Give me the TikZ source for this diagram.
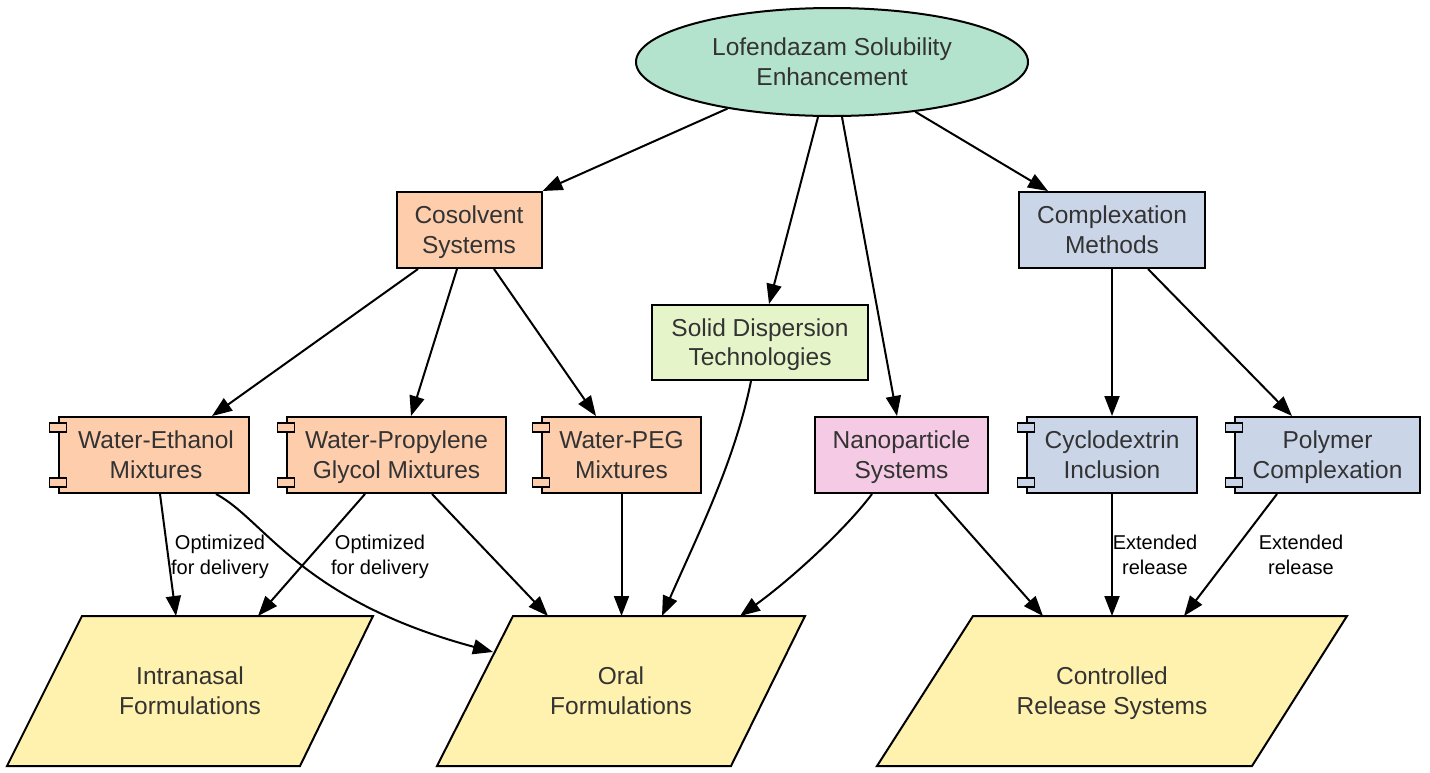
\documentclass[tikz,border=0pt]{standalone}
\usepackage{fontspec}
\setmainfont{Liberation Sans}
\usetikzlibrary{arrows.meta,shapes.geometric,calc}
\definecolor{cmint}{HTML}{B3E2CD}
\definecolor{corange}{HTML}{FDCDAC}
\definecolor{cblue}{HTML}{CBD5E8}
\definecolor{cpink}{HTML}{F4CAE4}
\definecolor{cgreen}{HTML}{E6F5C9}
\definecolor{cyellow}{HTML}{FFF2AE}
\definecolor{ctext}{HTML}{333333}
\newcommand\tstrut{\rule[-6.2pt]{0pt}{29.4pt}}
\newcommand\lstrut{\rule[-5.2pt]{0pt}{24.6pt}}
\newcommand\twol[2]{\tstrut #1\\\tstrut #2}
\newcommand\twos[2]{\lstrut #1\\\lstrut #2}
\newcommand\comptabs[2]{%
  \draw[line width=1.8pt, fill=#2] ($(#1.north west)+(-8.5,7)$) rectangle ++(17,9);
  \draw[line width=1.8pt, fill=#2] ($(#1.south west)+(-8.5,-16)$) rectangle ++(17,9);}
\begin{document}
\begin{tikzpicture}[x=1pt,y=-1pt,
  base/.style={draw=black, line width=2pt, text=ctext, font=\fontsize{24.5}{29.5}\selectfont, align=center, inner sep=0pt},
  box/.style={base, rectangle, minimum height=76pt},
  para/.style={draw=black, line width=2pt, fill=cyellow},
  ptext/.style={text=ctext, font=\fontsize{24.5}{29.5}\selectfont, align=center, inner sep=0pt},
  lbl/.style={font=\fontsize{20}{25}\selectfont, align=center, text=black, inner sep=0pt},
  arr/.style={line width=2pt, -{Triangle[length=20pt,width=15pt]}}
]
\useasboundingbox (0,0) rectangle (1430,772);

% top ellipse
\node[base, ellipse, fill=cmint, minimum width=392pt, minimum height=108pt] (ell) at (832,62) {\twol{Lofendazam Solubility}{Enhancement}};

% second level
\node[box, fill=corange, minimum width=145pt] (cosolv) at (469,230) {\twol{Cosolvent}{Systems}};
\node[box, fill=cblue, minimum width=186pt] (cplx) at (1112,230) {\twol{Complexation}{Methods}};
\node[box, fill=cgreen, minimum width=216pt, minimum height=75pt] (solid) at (760,342.5) {\twol{Solid Dispersion}{Technologies}};

% third level
\node[box, fill=corange, minimum width=190pt] (weth) at (154,455) {\twol{\hspace*{4pt}Water-Ethanol}{\hspace*{4pt}Mixtures}};
\node[box, fill=corange, minimum width=219pt] (wpg) at (396.5,455) {\twol{Water-Propylene}{Glycol Mixtures}};
\node[box, fill=corange, minimum width=159pt] (wpeg) at (621.5,455) {\twol{Water-PEG}{Mixtures}};
\node[box, fill=cpink, minimum width=173pt] (nano) at (901.5,455) {\twol{Nanoparticle}{Systems}};
\node[box, fill=cblue, minimum width=170pt] (cyc) at (1112,455) {\twol{Cyclodextrin}{Inclusion}};
\node[box, fill=cblue, minimum width=185pt] (poly) at (1327.5,455) {\twol{Polymer}{Complexation}};
\comptabs{weth}{corange}
\comptabs{wpg}{corange}
\comptabs{wpeg}{corange}
\comptabs{cyc}{cblue}
\comptabs{poly}{cblue}

% parallelograms
\draw[para] (82,616) -- (373,616) -- (300,766) -- (7,766) -- cycle;
\draw[para] (513,616) -- (805,616) -- (731,766) -- (437,766) -- cycle;
\draw[para] (973,616) -- (1347,616) -- (1252,766) -- (877,766) -- cycle;
\node[ptext] (intra) at (190,691) {\twol{Intranasal}{Formulations}};
\node[ptext] (oral) at (621,691) {\twol{Oral}{Formulations}};
\node[ptext] (ctrl) at (1112,691) {\twol{Controlled}{Release Systems}};

% arrow end points on parallelogram top edges
\coordinate (intraA) at (176,616);
\coordinate (intraB) at (258,616);
\coordinate (oralA) at (493,652);
\coordinate (oralB) at (548,616);
\coordinate (oralC) at (621.5,616);
\coordinate (oralD) at (662,616);
\coordinate (oralE) at (740,616);
\coordinate (ctrlA) at (1043,616);
\coordinate (ctrlB) at (1112,616);
\coordinate (ctrlC) at (1184,616);

% edges from top
\draw[arr] (ell) -- (cosolv.north east);
\draw[arr] ([xshift=-14pt]ell.south) -- ([xshift=9pt]solid.north);
\draw[arr] ([xshift=10pt]ell.south) -- ([xshift=-4.5pt]nano.north);
\draw[arr] (ell) -- ([xshift=-64pt]cplx.north);

% cosolvent children
\draw[arr] ([xshift=-51pt]cosolv.south) -- ([xshift=58pt]weth.north);
\draw[arr] ([xshift=-12pt]cosolv.south) -- ([xshift=14.5pt]wpg.north);
\draw[arr] ([xshift=25pt]cosolv.south) -- ([xshift=-25.5pt]wpeg.north);

% complexation children
\draw[arr] (cplx) -- (cyc);
\draw[arr] ([xshift=36pt]cplx.south) -- ([xshift=-35.5pt]poly.north);

% to formulations
\draw[arr] ([xshift=6pt]weth.south) -- (intraA);
\draw[arr] ([xshift=-31.5pt]wpg.south) -- (intraB);
\draw[arr] ([xshift=62pt]weth.south) .. controls (265,520) and (300,600) .. (oralA);
\draw[arr] ([xshift=35.5pt]wpg.south) -- (oralB);
\draw[arr] (wpeg.south) -- (oralC);
\draw[arr] ([xshift=-9pt]solid.south) .. controls (735,460) and (700,530) .. (oralD);
\draw[arr] ([xshift=-29.5pt]nano.south) .. controls (845,530) and (790,580) .. (oralE);
\draw[arr] ([xshift=33.5pt]nano.south) -- (ctrlA);
\draw[arr] (cyc.south) -- (ctrlB);
\draw[arr] ([xshift=-50.5pt]poly.south) -- (ctrlC);

% edge labels
\node[lbl] (l1) at (220,554.5) {\twos{Optimized}{for delivery}};
\node[lbl] (l2) at (380,554.5) {\twos{Optimized}{for delivery}};
\node[lbl] (l3) at (1155,554.5) {\twos{Extended}{release}};
\node[lbl] (l4) at (1301,554.5) {\twos{Extended}{release}};
\end{tikzpicture}
\end{document}
